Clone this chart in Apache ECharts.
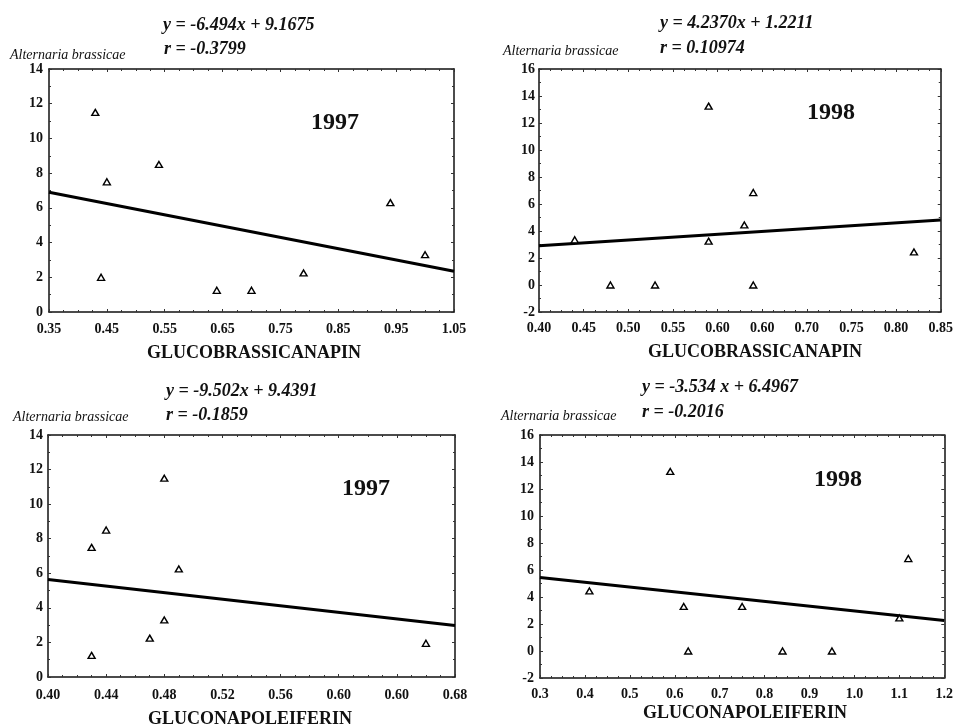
<!DOCTYPE html>
<html>
<head>
<meta charset="utf-8">
<script src="https://cdn.jsdelivr.net/npm/echarts@6/dist/echarts.min.js"></script>
<style>
  html, body { margin: 0; padding: 0; background: #fff; }
  #chart { width: 956px; height: 726px; }
</style>
</head>
<body>
<div id="chart"></div>
<script>
// 四個小图: 上排 GLUCOBRASSICANAPIN (1997, 1998), 下排 GLUCONAPOLEIFERIN (1997, 1998)
const panelYears = ['1997', '1998', '1997', '1998']
const panelXNames = ['GLUCOBRASSICANAPIN', 'GLUCOBRASSICANAPIN', 'GLUCONAPOLEIFERIN', 'GLUCONAPOLEIFERIN']
const yAxisName = 'Alternaria brassicae'

// 散點數據
const gbn97X = [0.43, 0.44, 0.45, 0.54, 0.64, 0.70, 0.79, 0.94, 1.00]
const gbn97Y = [11.5, 2.0, 7.5, 8.5, 1.25, 1.25, 2.25, 6.3, 3.3]
const gbn98X = [0.44, 0.48, 0.53, 0.59, 0.59, 0.63, 0.64, 0.64, 0.82]
const gbn98Y = [3.35, 0, 0, 13.25, 3.25, 4.45, 6.85, 0, 2.45]
const gnl97X = [0.43, 0.44, 0.43, 0.47, 0.48, 0.48, 0.49, 0.66]
const gnl97Y = [7.5, 8.5, 1.25, 2.25, 11.5, 3.3, 6.25, 1.95]
const gnl98X = [0.41, 0.59, 0.62, 0.63, 0.75, 0.84, 0.95, 1.10, 1.12]
const gnl98Y = [4.45, 13.3, 3.3, 0, 3.3, 0, 0, 2.45, 6.85]

// 回归方程 y = slope * x + intercept
const slopes = [-6.494, 4.2370, -9.502, -3.534]
const intercepts = [9.1675, 1.2211, 9.4391, 6.4967]
const equationTexts = ['y = -6.494x + 9.1675', 'y = 4.2370x + 1.2211', 'y = -9.502x + 9.4391', 'y = -3.534 x + 6.4967']
const rTexts = ['r = -0.3799', 'r = 0.10974', 'r = -0.1859', 'r = -0.2016']

// 轴范围
const xMins = [0.35, 0.40, 0.40, 0.3]
const xMaxs = [1.05, 0.85, 0.68, 1.2]
const xSteps = [0.1, 0.05, 0.04, 0.1]
const yMins = [0, -2, 0, -2]
const yMaxs = [14, 16, 14, 16]

// 刻度文字 (原图中有重复的 0.60)
const xTicks1 = ['0.35', '0.45', '0.55', '0.65', '0.75', '0.85', '0.95', '1.05']
const xTicks2 = ['0.40', '0.45', '0.50', '0.55', '0.60', '0.60', '0.70', '0.75', '0.80', '0.85']
const xTicks3 = ['0.40', '0.44', '0.48', '0.52', '0.56', '0.60', '0.60', '0.68']
const xTicks4 = ['0.3', '0.4', '0.5', '0.6', '0.7', '0.8', '0.9', '1.0', '1.1', '1.2']

const pointsX = [gbn97X, gbn98X, gnl97X, gnl98X]
const pointsY = [gbn97Y, gbn98Y, gnl97Y, gnl98Y]
const xTickLabels = [xTicks1, xTicks2, xTicks3, xTicks4]

// 每個网格的位置
const grids = [
  { left: 49, top: 69, width: 405, height: 243 },
  { left: 539, top: 69, width: 407, height: 243 },
  { left: 48, top: 435, width: 407, height: 242 },
  { left: 540, top: 435, width: 408, height: 243 }
]
const yLabelMargins = [6, 4, 5, 6]
const xLabelMargins = [10, 9, 11, 9]

const serif = '"Liberation Serif", "DejaVu Serif", serif'
const chart = echarts.init(document.getElementById('chart'))

const xAxes = []
const yAxes = []
const series = []

grids.forEach((g, i) => {
  const common = {
    gridIndex: i,
    type: 'value',
    splitLine: { show: false },
    axisLine: { onZero: false, lineStyle: { color: '#111', width: 1.5 } },
    axisTick: { inside: true, length: 3, lineStyle: { color: '#333' } },
    minorTick: { show: true, length: 2, lineStyle: { color: '#333' } }
  }
  // 下方 x 轴 (带文字) + 上方 x 轴 (只有刻度)
  const xBase = Object.assign({}, common, {
    min: xMins[i],
    max: xMaxs[i],
    interval: xSteps[i],
    minorTick: Object.assign({}, common.minorTick, { splitNumber: 4 })
  })
  xAxes.push(Object.assign({}, xBase, {
    position: 'bottom',
    axisLabel: {
      margin: xLabelMargins[i],
      fontFamily: serif,
      fontWeight: 'bold',
      fontSize: 14,
      color: '#111',
      formatter: (v) => xTickLabels[i][Math.round((v - xMins[i]) / xSteps[i])]
    }
  }))
  xAxes.push(Object.assign({}, xBase, { position: 'top', axisLabel: { show: false } }))

  const yBase = Object.assign({}, common, {
    min: yMins[i],
    max: yMaxs[i],
    interval: 2,
    minorTick: Object.assign({}, common.minorTick, { splitNumber: 2 })
  })
  yAxes.push(Object.assign({}, yBase, {
    position: 'left',
    axisLabel: {
      margin: yLabelMargins[i],
      fontFamily: serif,
      fontWeight: 'bold',
      fontSize: 14,
      color: '#111'
    }
  }))
  yAxes.push(Object.assign({}, yBase, { position: 'right', axisLabel: { show: false } }))

  // 回归線
  series.push({
    type: 'line',
    xAxisIndex: i * 2,
    yAxisIndex: i * 2,
    showSymbol: false,
    silent: true,
    lineStyle: { color: '#000', width: 3 },
    data: [xMins[i], xMaxs[i]].map((x) => [x, slopes[i] * x + intercepts[i]])
  })
  // 散點 (空心三角)
  series.push({
    type: 'scatter',
    xAxisIndex: i * 2,
    yAxisIndex: i * 2,
    symbol: 'triangle',
    symbolSize: [7, 6],
    itemStyle: { color: '#fff', borderColor: '#000', borderWidth: 1.4, opacity: 1 },
    z: 5,
    data: pointsX[i].map((x, k) => [x, pointsY[i][k]])
  })
})

// 文字位置
const eqPos = [[163, 25], [660, 23], [166, 391], [642, 387]]
const rPos = [[164, 49], [660, 48], [166, 415], [642, 412]]
const namePos = [[10, 55], [503, 51], [13, 417], [501, 416]]
const yearPos = [[335, 123], [831, 113], [366, 489], [838, 480]]
const titlePos = [[254, 353], [755, 352], [250, 719], [745, 713]]

const graphic = []
grids.forEach((g, i) => {
  graphic.push({
    type: 'text', x: eqPos[i][0], y: eqPos[i][1],
    style: { text: equationTexts[i], font: 'italic bold 18px ' + serif, fill: '#111', textVerticalAlign: 'middle' }
  })
  graphic.push({
    type: 'text', x: rPos[i][0], y: rPos[i][1],
    style: { text: rTexts[i], font: 'italic bold 18px ' + serif, fill: '#111', textVerticalAlign: 'middle' }
  })
  graphic.push({
    type: 'text', x: namePos[i][0], y: namePos[i][1],
    style: { text: yAxisName, font: 'italic 14px ' + serif, fill: '#111', textVerticalAlign: 'middle' }
  })
  graphic.push({
    type: 'text', x: yearPos[i][0], y: yearPos[i][1],
    style: { text: panelYears[i], font: 'bold 24px ' + serif, fill: '#111', textAlign: 'center', textVerticalAlign: 'middle' }
  })
  graphic.push({
    type: 'text', x: titlePos[i][0], y: titlePos[i][1],
    style: { text: panelXNames[i], font: 'bold 18px ' + serif, fill: '#111', textAlign: 'center', textVerticalAlign: 'middle' }
  })
})

chart.setOption({
  animation: false,
  backgroundColor: '#fff',
  grid: grids,
  xAxis: xAxes,
  yAxis: yAxes,
  series: series,
  graphic: graphic
})
</script>
</body>
</html>
